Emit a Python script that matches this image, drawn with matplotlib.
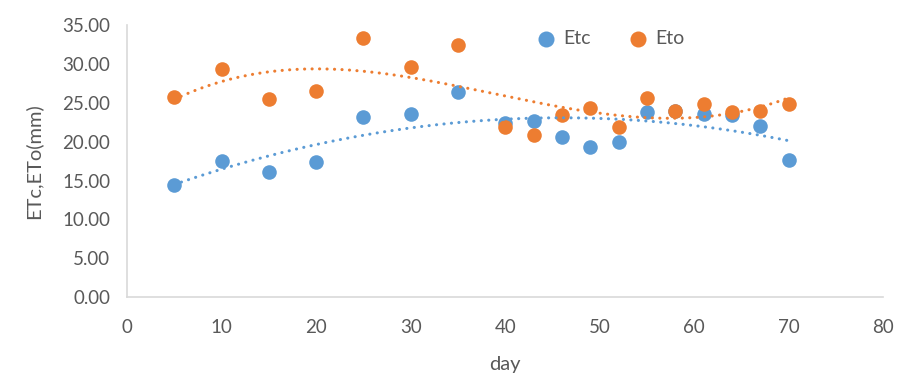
import numpy as np
import matplotlib.pyplot as plt

plt.rcParams['font.family'] = ['Lato', 'DejaVu Sans']

day = [5, 10, 15, 20, 25, 30, 35, 40, 43, 46, 49, 52, 55, 58, 61, 64, 67, 70]
etc = [14.4, 17.5, 16.1, 17.4, 23.2, 23.6, 26.4, 22.4, 22.6, 20.6, 19.3, 20.0,
       23.8, 24.0, 23.6, 23.4, 22.0, 17.7]
eto = [25.7, 29.4, 25.5, 26.5, 33.4, 29.6, 32.4, 21.9, 20.8, 23.4, 24.3, 21.9,
       25.6, 23.9, 24.8, 23.8, 24.0, 24.8]

blue = '#5B9BD5'
orange = '#ED7D31'
grey = '#595959'

fig = plt.figure(figsize=(9.07, 3.8), dpi=100)
ax = fig.add_axes([0.140, 0.218, 0.834, 0.716])

ax.scatter(day, etc, s=110, color=blue, label='Etc', zorder=3, linewidths=0)
ax.scatter(day, eto, s=110, color=orange, label='Eto', zorder=3, linewidths=0)

# trendlines: poly order 2 for Etc, order 3 for Eto
xs = np.linspace(min(day), max(day), 200)
ax.plot(xs, np.polyval(np.polyfit(day, etc, 2), xs), color=blue, lw=2.2,
        linestyle=(0, (0.05, 2.4)), dash_capstyle='round', zorder=4)
ax.plot(xs, np.polyval(np.polyfit(day, eto, 3), xs), color=orange, lw=2.2,
        linestyle=(0, (0.05, 2.4)), dash_capstyle='round', zorder=4)

ax.set_xlim(0, 80)
ax.set_ylim(0, 35)
ax.set_xticks(range(0, 81, 10))
ax.set_yticks(range(0, 36, 5))
ax.set_yticklabels([f'{v:.2f}' for v in range(0, 36, 5)])
ax.tick_params(length=0, labelsize=13.5, colors=grey, pad=12)
ax.tick_params(axis='x', pad=16)

for s in ['top', 'right']:
    ax.spines[s].set_visible(False)
for s in ['left', 'bottom']:
    ax.spines[s].set_color('#D9D9D9')
    ax.spines[s].set_linewidth(1.2)

ax.set_xlabel('day', fontsize=14.5, color=grey, labelpad=14)
ax.set_ylabel('ETc,ETo(mm)', fontsize=14.5, color=grey, labelpad=14)

leg = ax.legend(loc='upper left', bbox_to_anchor=(0.505, 1.045), ncol=2,
                frameon=False, fontsize=14, handletextpad=-0.1,
                columnspacing=1.4, markerscale=1.1)
for t in leg.get_texts():
    t.set_color(grey)

fig.savefig('out.png', dpi=100)
